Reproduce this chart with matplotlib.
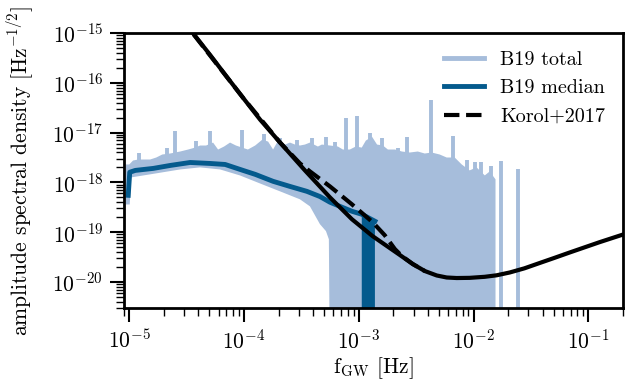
import numpy as np
import matplotlib
matplotlib.use("Agg")
import matplotlib.pyplot as plt
from matplotlib.lines import Line2D

plt.rcParams.update({
    "font.family": "serif",
    "font.serif": ["cmr10"],
    "mathtext.fontset": "cm",
    "axes.formatter.use_mathtext": True,
    "font.size": 15,
})

# ---------------- data ----------------
# B19 total: upper envelope of the dense spectrum
total_upper_f = [9.3e-6, 1.0e-5, 1.08e-5, 1.20e-5, 1.32e-5, 1.52e-5, 1.72e-5, 1.94e-5, 2.27e-5,
                 2.78e-5, 3.26e-5, 3.75e-5, 4.14e-5, 4.67e-5, 5.37e-5, 5.94e-5, 6.70e-5, 7.55e-5,
                 8.5e-5, 1.08e-4, 1.25e-4, 1.44e-4, 1.62e-4, 1.79e-4, 1.98e-4, 2.28e-4, 2.51e-4,
                 2.78e-4, 3.07e-4, 3.39e-4, 3.75e-4, 4.40e-4, 4.76e-4, 5.6e-4, 6.56e-4, 7.26e-4,
                 8.35e-4, 9.4e-4, 1.06e-3, 1.15e-3, 1.30e-3, 1.44e-3, 1.62e-3, 1.79e-3, 2.06e-3,
                 2.37e-3, 2.78e-3, 3.26e-3, 3.75e-3, 4.31e-3, 5.06e-3, 5.82e-3, 6.84e-3, 7.87e-3,
                 9.23e-3, 1.06e-2, 1.25e-2, 1.38e-2, 1.55e-2]
total_upper = [2.29e-18, 2.29e-18, 2.75e-18, 2.88e-18, 2.88e-18, 2.88e-18, 3.16e-18, 3.63e-18, 3.8e-18,
               4.17e-18, 4.57e-18, 5.0e-18, 5.5e-18, 5.5e-18, 6.3e-18, 4.57e-18, 5.25e-18, 6.3e-18,
               5.5e-18, 4.57e-18, 5.5e-18, 7.2e-18, 6.6e-18, 4.57e-18, 6.9e-18, 5.75e-18, 6.3e-18,
               5.75e-18, 5.5e-18, 5.75e-18, 6.3e-18, 5.25e-18, 5.75e-18, 5.5e-18, 5.25e-18, 4.57e-18,
               4.57e-18, 5.25e-18, 5.0e-18, 6.9e-18, 8.3e-18, 5.75e-18, 5.5e-18, 4.57e-18, 4.57e-18,
               4.17e-18, 3.98e-18, 4.17e-18, 3.8e-18, 3.98e-18, 3.63e-18, 3.16e-18, 3.16e-18, 2.29e-18,
               1.74e-18, 2.0e-18, 1.38e-18, 1.66e-18, 1.15e-18]
# B19 total: lower envelope (from high to low frequency); 1e-22 = drops to zero
total_lower_f = [1.55e-2, 5.6e-4, 5.48e-4, 5.17e-4, 4.58e-4, 3.75e-4, 3.07e-4, 2.06e-4, 1.38e-4,
                 9.2e-5, 6.18e-5, 4.14e-5, 2.78e-5, 1.52e-5, 1.04e-5, 1.01e-5, 9.3e-6]
total_lower = [1e-22, 1e-22, 7.2e-20, 1.05e-19, 1.45e-19, 3.3e-19, 4.57e-19, 6.6e-19, 9.5e-19,
               1.38e-18, 1.82e-18, 2.0e-18, 1.82e-18, 1.45e-18, 1.26e-18, 3.6e-19, 3.6e-19]
# B19 total: individual narrow peaks
spike_f = [1.22e-5, 2.14e-5, 2.51e-5, 3.83e-5, 5.06e-5, 9.6e-5, 1.49e-4, 2.06e-4, 2.89e-4,
           3.90e-4, 5.17e-4, 6.18e-4, 7.71e-4, 9.6e-4, 1.25e-3, 1.58e-3, 2.18e-3, 2.61e-3,
           4.23e-3, 6.56e-3, 8.7e-3, 1.02e-2, 1.17e-2, 1.41e-2, 1.72e-2, 2.41e-2]
spike_top = [3.98e-18, 5.0e-18, 1.10e-17, 6.9e-18, 1.10e-17, 1.15e-17, 9.5e-18, 7.9e-18, 7.2e-18,
             7.9e-18, 8.3e-18, 6.6e-18, 2.0e-17, 2.19e-17, 1.0e-17, 7.9e-18, 5.0e-18, 8.3e-18,
             4.57e-17, 8.7e-18, 2.88e-18, 2.51e-18, 2.51e-18, 2.09e-18, 2.63e-18, 1.82e-18]
spike_floor = [2.5e-18] * 20 + [1e-19] * 4 + [1e-22] * 2

# B19 median
median_f = [9.8e-6, 1.01e-5, 1.13e-5, 1.62e-5, 2.28e-5, 3.39e-5, 5.06e-5, 6.84e-5, 9.8e-5,
            1.25e-4, 1.79e-4, 2.51e-4, 3.53e-4, 4.58e-4, 5.6e-4, 6.84e-4, 8.7e-4, 1.06e-3, 1.38e-3]
median = [5.5e-19, 1.6e-18, 1.74e-18, 1.91e-18, 2.19e-18, 2.51e-18, 2.40e-18, 2.29e-18, 1.74e-18,
          1.45e-18, 1.05e-18, 8.3e-19, 6.6e-19, 5.2e-19, 4.0e-19, 3.3e-19, 2.63e-19, 2.29e-19, 1.66e-19]
# frequency band where the median drops to zero
median_gap_f = [1.06e-3, 1.38e-3]
median_gap_top = [2.29e-19, 1.66e-19]

# LISA sensitivity (solid black)
lisa_f = [2.77e-5, 3.58e-5, 5.06e-5, 6.97e-5, 9.8e-5, 1.38e-4, 2.06e-4, 3.39e-4, 5.6e-4, 8.7e-4,
          1.32e-3, 1.86e-3, 2.28e-3, 2.95e-3, 3.75e-3, 4.77e-3, 5.82e-3, 7.11e-3, 9.23e-3, 1.25e-2,
          1.58e-2, 2.06e-2, 2.77e-2, 3.75e-2, 5.06e-2, 6.84e-2, 9.23e-2, 1.25e-1, 1.98e-1, 2.5e-1]
lisa = [2.1e-15, 1.0e-15, 3.63e-16, 1.38e-16, 5.0e-17, 1.82e-17, 6.3e-18, 1.74e-18, 5.0e-19, 1.82e-19,
        8.3e-20, 4.8e-20, 3.47e-20, 2.29e-20, 1.66e-20, 1.35e-20, 1.23e-20, 1.20e-20, 1.21e-20, 1.27e-20,
        1.36e-20, 1.55e-20, 1.88e-20, 2.4e-20, 3.05e-20, 3.9e-20, 4.95e-20, 6.3e-20, 8.9e-20, 1.05e-19]

# Korol+2017 (dashed black)
korol_f = [2.77e-5, 9.8e-5, 2.06e-4, 3.07e-4, 3.75e-4, 5.6e-4, 8.7e-4, 1.32e-3, 1.68e-3, 2.06e-3,
           2.37e-3, 2.95e-3, 3.75e-3]
korol = [2.1e-15, 5.0e-17, 6.3e-18, 2.4e-18, 1.66e-18, 8.3e-19, 3.63e-19, 1.58e-19, 8.7e-20, 4.57e-20,
         3.31e-20, 2.29e-20, 1.66e-20]

labels = ["B19 total", "B19 median", "Korol+2017"]
x_ticks = [1e-5, 1e-4, 1e-3, 1e-2, 1e-1]
y_ticks = [1e-20, 1e-19, 1e-18, 1e-17, 1e-16, 1e-15]

# ---------------- plot ----------------
c_total = "#a6bddb"
c_median = "#045a8d"

fig = plt.figure(figsize=(6.32, 3.82), dpi=100)
ax = fig.add_axes([0.1962, 0.1937, 0.7896, 0.7199])
ax.set_xscale("log")
ax.set_yscale("log")

poly_f = list(total_upper_f) + list(total_lower_f)
poly_a = list(total_upper) + list(total_lower)
ax.fill(poly_f, poly_a, color=c_total, lw=0, zorder=1)
ax.vlines(spike_f, spike_floor, spike_top, color=c_total, lw=2.8, zorder=1)

ax.fill([median_gap_f[0], median_gap_f[1], median_gap_f[1], median_gap_f[0]],
        [median_gap_top[0], median_gap_top[1], 1e-22, 1e-22], color=c_median, lw=0, zorder=2)
ax.plot(median_f, median, color=c_median, lw=3.5, zorder=2, solid_joinstyle="round")

ax.plot(korol_f, korol, color="black", lw=3, ls="--", zorder=3)
ax.plot(lisa_f, lisa, color="black", lw=3, zorder=4)

ax.set_xticks(x_ticks)
ax.set_yticks(y_ticks)
ax.set_xlim(9e-6, 0.2)
ax.set_ylim(3e-21, 1e-15)

for s in ["top", "right", "bottom", "left"]:
    ax.spines[s].set_linewidth(2)

ax.tick_params(which="major", length=10, width=1.5, direction="out", labelsize=15.5)
ax.tick_params(axis="y", which="major", pad=5)
ax.tick_params(axis="x", which="major", pad=5)
ax.tick_params(which="minor", length=5.5, width=1.0, direction="out")

ax.set_xlabel(r"f$_{\rm GW}$ [Hz]", fontsize=15.5)
ax.xaxis.set_label_coords(0.5, -0.172)
ax.set_ylabel(r"amplitude spectral density [Hz$^{-1/2}$]", fontsize=15.5)
ax.yaxis.set_label_coords(-0.176, 0.5)

handles = [Line2D([], [], color=c_total, lw=3.5),
           Line2D([], [], color=c_median, lw=3.5),
           Line2D([], [], color="black", lw=3, ls="--")]
ax.legend(handles, labels, loc="upper right", frameon=False, fontsize=14.5)

fig.savefig("out.png", dpi=100)
